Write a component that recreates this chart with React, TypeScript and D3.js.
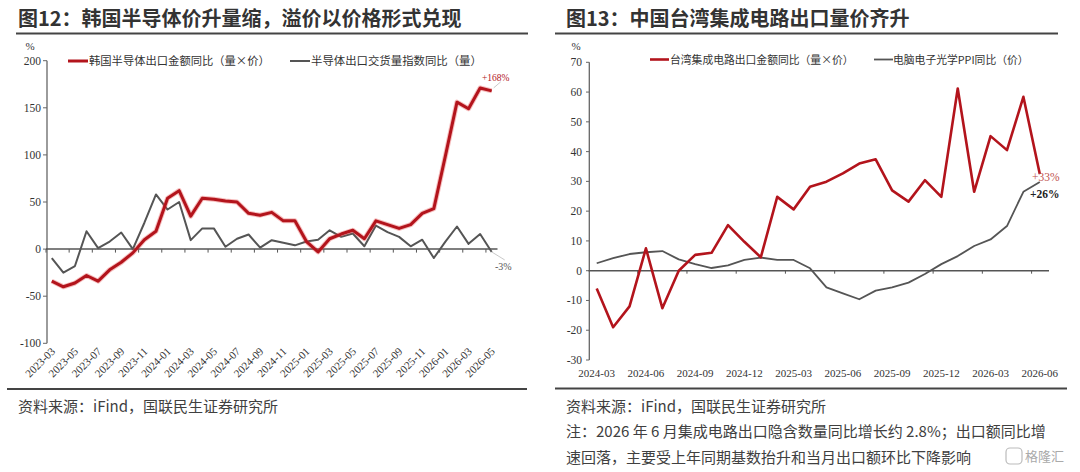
import React from 'react';
import * as d3 from 'd3';

// 图12 韩国：2023-03 ~ 2026-05
const krMonths = d3.timeMonths(new Date(2023, 2, 1), new Date(2026, 5, 1)).map(d3.timeFormat('%Y-%m'));
const krAmount = [-34, -40, -36, -28, -34, -22, -14, -4, 10, 19, 54, 62, 35, 54, 53, 51, 50, 38, 36, 39, 30, 30, 8, -3, 11, 16, 20, 11, 30, 26, 22, 26, 38, 43, 99, 156, 149, 171, 168];
const krVolume = [-9.5, -25, -18, 19, 1, 8, 17.6, 0, 28, 58, 42, 50, 9.5, 22, 22, 2.5, 11, 15.5, 1.5, 9.5, 6.7, 4, 8, 10, 20, 13, 16.6, 3, 25, 18, 13, 3, 10, -9.5, 8, 24, 5.6, 16, -3];
const krTicks = [200, 150, 100, 50, 0, -50, -100];

// 图13 中国台湾：2024-03 ~ 2026-06
const twMonths = d3.timeMonths(new Date(2024, 2, 1), new Date(2026, 6, 1)).map(d3.timeFormat('%Y-%m'));
const twAmount = [-6, -19, -12, 7.5, -12.6, 0, 5.3, 6, 15.3, 9.7, 4.5, 24.8, 20.6, 28.2, 29.9, 32.7, 36, 37.4, 27, 23.2, 30.4, 24.8, 61.2, 26.5, 45.2, 40.5, 58.4, 32.5];
const twPPI = [2.5, 4.2, 5.6, 6.2, 6.6, 3.8, 2.2, 0.9, 1.8, 3.6, 4.4, 3.6, 3.6, 0.8, -5.6, -7.6, -9.6, -6.7, -5.6, -4, -1.1, 2.2, 4.9, 8.3, 10.5, 15, 26.5, 29.8];
const twTicks = [70, 60, 50, 40, 30, 20, 10, 0, -10, -20, -30];

const CJK = '"Noto Sans CJK SC", "Noto Sans", sans-serif';
const SERIF = '"Liberation Serif", "DejaVu Serif", serif';
const RED = '#b3141c';
const GRAY = '#555555';

export default function App() {
  // left chart scales
  const xL = d3.scaleBand<string>().domain(krMonths).range([46, 497.5]);
  const yL = d3.scaleLinear().domain([-100, 200]).range([343.3, 60.7]);
  const cxL = (i: number) => (xL(krMonths[i]) as number) + xL.bandwidth() / 2;
  const lineL = (vals: number[]) =>
    d3.line<number>().x((_, i) => cxL(i)).y(v => yL(v))(vals) as string;

  // right chart scales
  const xR = d3.scaleBand<string>().domain(twMonths).range([588.5, 1048]);
  const yR = d3.scaleLinear().domain([-30, 70]).range([360, 62.3]);
  const cxR = (i: number) => (xR(twMonths[i]) as number) + xR.bandwidth() / 2;
  const lineR = (vals: number[]) =>
    d3.line<number>().x((_, i) => cxR(i)).y(v => yR(v))(vals) as string;

  const krLast = krAmount.length - 1;

  return (
    <svg width={1080} height={472} style={{ position: 'absolute', left: 0, top: 0, background: '#fff' }}>
      {/* titles */}
      <text x={18} y={26} fontFamily={CJK} fontSize={20} fontWeight={700} fill="#333">图12：韩国半导体价升量缩，溢价以价格形式兑现</text>
      <line x1={16} x2={528} y1={33.5} y2={33.5} stroke="#444" strokeWidth={2} />
      <text x={566} y={26} fontFamily={CJK} fontSize={20} fontWeight={700} fill="#333">图13：中国台湾集成电路出口量价齐升</text>
      <line x1={555} x2={1058} y1={33.5} y2={33.5} stroke="#444" strokeWidth={2} />

      {/* ---------- left chart ---------- */}
      <text x={30} y={50} fontFamily={SERIF} fontSize={11} fill="#333" textAnchor="middle">%</text>
      <line x1={47} x2={47} y1={yL(200)} y2={yL(-100)} stroke="#666" strokeWidth={1.3} />
      {krTicks.map(t => (
        <g key={t}>
          <line x1={43} x2={47} y1={yL(t)} y2={yL(t)} stroke="#666" strokeWidth={1} />
          <text x={41} y={yL(t) + 4} fontFamily={SERIF} fontSize={11.5} fill="#333" textAnchor="end">{t}</text>
        </g>
      ))}
      <line x1={46} x2={497.5} y1={yL(0)} y2={yL(0)} stroke="#555" strokeWidth={1.5} />
      {krMonths.map((m, i) => i % 2 === 0 ? (
        <g key={m}>
          <line x1={xL(m) as number} x2={xL(m) as number} y1={yL(0)} y2={yL(0) + 3.5} stroke="#555" strokeWidth={1} />
          <text transform={`translate(${cxL(i) + 4},${352}) rotate(-45)`} fontFamily={SERIF} fontSize={11} fill="#333" textAnchor="end">{m}</text>
        </g>
      ) : null)}
      <path d={lineL(krVolume)} fill="none" stroke={GRAY} strokeWidth={2} strokeLinejoin="round" />
      <path d={lineL(krAmount)} fill="none" stroke="rgba(230,70,70,0.35)" strokeWidth={5} strokeLinejoin="round" />
      <path d={lineL(krAmount)} fill="none" stroke={RED} strokeWidth={3} strokeLinejoin="round" />
      {/* legend */}
      <line x1={68} x2={88} y1={61} y2={61} stroke={RED} strokeWidth={3} />
      <text x={89} y={65} fontFamily={CJK} fontSize={11.3} fill="#333">韩国半导体出口金额同比（量×价）</text>
      <line x1={290} x2={310} y1={61} y2={61} stroke={GRAY} strokeWidth={2} />
      <text x={311} y={65} fontFamily={CJK} fontSize={11.4} fill="#333">半导体出口交货量指数同比（量）</text>
      {/* end labels */}
      <line x1={cxL(krLast) + 2} x2={cxL(krLast) + 9} y1={yL(krAmount[krLast]) - 3} y2={yL(krAmount[krLast]) - 9} stroke="#bbb" strokeWidth={0.8} />
      <text x={482} y={81} fontFamily={SERIF} fontSize={9.5} fill={RED}>+168%</text>
      <line x1={cxL(krLast)} x2={cxL(krLast) + 13} y1={yL(krVolume[krLast])} y2={yL(krVolume[krLast]) + 8} stroke="#bbb" strokeWidth={0.8} />
      <text x={495} y={270} fontFamily={SERIF} fontSize={10} fill="#555">-3%</text>

      <line x1={7} x2={527} y1={389} y2={389} stroke="#444" strokeWidth={2} />
      <text x={18} y={412} fontFamily={CJK} fontSize={15} fill="#404040">资料来源：iFind，国联民生证券研究所</text>

      {/* ---------- right chart ---------- */}
      <text x={576} y={50} fontFamily={SERIF} fontSize={11} fill="#333" textAnchor="middle">%</text>
      <line x1={589.3} x2={589.3} y1={yR(70)} y2={yR(-30)} stroke="#666" strokeWidth={1.3} />
      {twTicks.map(t => (
        <g key={t}>
          <line x1={586} x2={589.3} y1={yR(t)} y2={yR(t)} stroke="#666" strokeWidth={1} />
          <text x={582} y={yR(t) + 4} fontFamily={SERIF} fontSize={11.5} fill="#333" textAnchor="end">{t}</text>
        </g>
      ))}
      <line x1={588.5} x2={1049} y1={yR(0)} y2={yR(0)} stroke="#555" strokeWidth={1.5} />
      {twMonths.map((m, i) => i % 3 === 0 ? (
        <g key={m}>
          {i > 0 && <line x1={xR(m) as number} x2={xR(m) as number} y1={yR(0)} y2={yR(0) + 3} stroke="#555" strokeWidth={1} />}
          <text x={cxR(i)} y={377} fontFamily={SERIF} fontSize={11} fill="#333" textAnchor="middle">{m}</text>
        </g>
      ) : null)}
      <path d={lineR(twPPI)} fill="none" stroke={GRAY} strokeWidth={1.8} strokeLinejoin="round" />
      <path d={lineR(twAmount)} fill="none" stroke={RED} strokeWidth={2.6} strokeLinejoin="round" />
      {/* legend */}
      <line x1={650} x2={669} y1={59.5} y2={59.5} stroke={RED} strokeWidth={2.6} />
      <text x={670} y={63.5} fontFamily={CJK} fontSize={10.8} fill="#333">台湾集成电路出口金额同比（量×价）</text>
      <line x1={874} x2={893} y1={59.5} y2={59.5} stroke={GRAY} strokeWidth={1.8} />
      <text x={893} y={63.5} fontFamily={CJK} fontSize={10.8} fill="#333">电脑电子光学PPI同比（价）</text>
      {/* end labels */}
      <text x={1032} y={181} fontFamily={SERIF} fontSize={11.5} fill="#c0504d">+33%</text>
      <text x={1030} y={198} fontFamily={SERIF} fontSize={11.5} fontWeight={700} fill="#222">+26%</text>

      <line x1={555} x2={1067} y1={388.5} y2={388.5} stroke="#444" strokeWidth={2} />
      <text x={566} y={412} fontFamily={CJK} fontSize={15} fill="#404040">资料来源：iFind，国联民生证券研究所</text>
      <text x={566} y={437} fontFamily={CJK} fontSize={15} fill="#404040">注：2026 年 6 月集成电路出口隐含数量同比增长约 2.8%；出口额同比增</text>
      <text x={566} y={463} fontFamily={CJK} fontSize={15} fill="#404040">速回落，主要受上年同期基数抬升和当月出口额环比下降影响</text>

      {/* watermark */}
      <rect x={1006} y={448} width={16} height={16} rx={4} fill="none" stroke="#bbb" strokeWidth={1.2} />
      <text x={1025} y={461} fontFamily={CJK} fontSize={13} fill="#aaa">格隆汇</text>
    </svg>
  );
}
